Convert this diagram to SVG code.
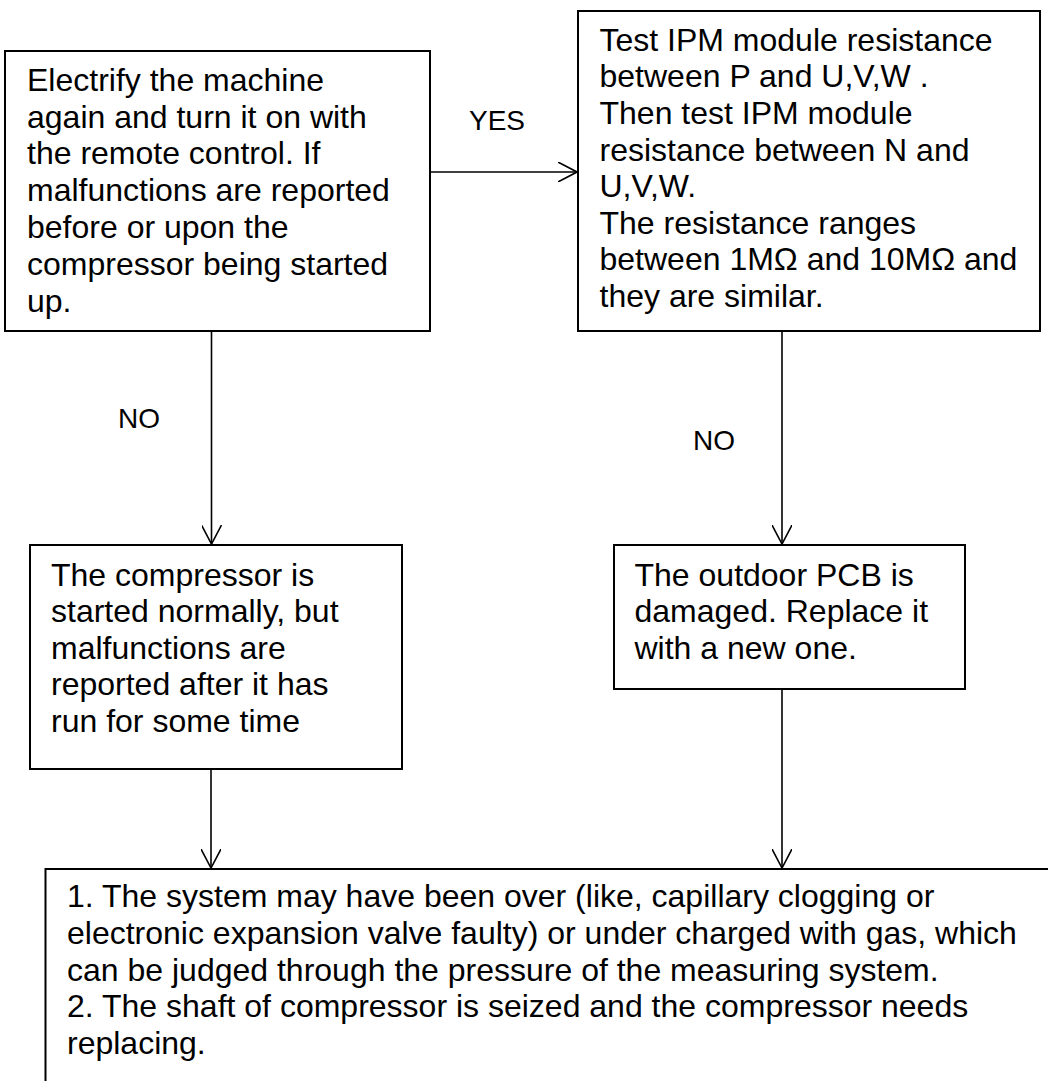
<svg xmlns="http://www.w3.org/2000/svg" width="1048" height="1081" viewBox="0 0 1048 1081">
<defs>
<style>
.box{fill:#fff;stroke:#000;stroke-width:2}
.t{font-family:"Liberation Sans",Arial,sans-serif;font-size:32px;fill:#000}
.lbl{font-family:"Liberation Sans",Arial,sans-serif;font-size:28px;fill:#000}
.c{stroke:#000;stroke-width:1.6;fill:none}
</style>
<marker id="arr" viewBox="0 0 20 20" refX="19" refY="10" markerWidth="20" markerHeight="20" markerUnits="userSpaceOnUse" orient="auto">
<path d="M0,0 L19,10 L0,20" fill="none" stroke="#000" stroke-width="1.6"/>
</marker>
</defs>
<rect width="1048" height="1081" fill="#fff"/>
<g id="connectors">
<line class="c" x1="430" y1="172" x2="577" y2="172" marker-end="url(#arr)"/>
<line class="c" x1="211.5" y1="331" x2="211.5" y2="544" marker-end="url(#arr)"/>
<line class="c" x1="782" y1="331" x2="782" y2="544" marker-end="url(#arr)"/>
<line class="c" x1="211" y1="769" x2="211" y2="868" marker-end="url(#arr)"/>
<line class="c" x1="782" y1="689" x2="782" y2="868" marker-end="url(#arr)"/>
<text class="lbl" x="469" y="130">YES</text>
<text class="lbl" x="118" y="428">NO</text>
<text class="lbl" x="693" y="450">NO</text>
</g>
<g id="n1">
<rect class="box" x="5" y="51" width="425" height="280"/>
<text class="t" x="27" y="90.7">Electrify the machine</text>
<text class="t" x="27" y="127.5">again and turn it on with</text>
<text class="t" x="27" y="164.3">the remote control. If</text>
<text class="t" x="27" y="201.1">malfunctions are reported</text>
<text class="t" x="27" y="237.9">before or upon the</text>
<text class="t" x="27" y="274.7">compressor being started</text>
<text class="t" x="27" y="311.5">up.</text>
</g>
<g id="n2">
<rect class="box" x="578" y="11" width="462" height="320"/>
<text class="t" x="599.5" y="50.7">Test IPM module resistance</text>
<text class="t" x="599.5" y="87.3">between P and U,V,W .</text>
<text class="t" x="599.5" y="123.9">Then test IPM module</text>
<text class="t" x="599.5" y="160.5">resistance between N and</text>
<text class="t" x="599.5" y="197.1">U,V,W.</text>
<text class="t" x="599.5" y="233.7">The resistance ranges</text>
<text class="t" x="599.5" y="270.3">between 1MΩ and 10MΩ and</text>
<text class="t" x="599.5" y="306.9">they are similar.</text>
</g>
<g id="n3">
<rect class="box" x="30" y="545" width="372" height="224"/>
<text class="t" x="51" y="585.7">The compressor is</text>
<text class="t" x="51" y="622.2">started normally, but</text>
<text class="t" x="51" y="658.7">malfunctions are</text>
<text class="t" x="51" y="695.2">reported after it has</text>
<text class="t" x="51" y="731.7">run for some time</text>
</g>
<g id="n4">
<rect class="box" x="614" y="545" width="351" height="144"/>
<text class="t" x="634.5" y="585.7">The outdoor PCB is</text>
<text class="t" x="634.5" y="622.2">damaged. Replace it</text>
<text class="t" x="634.5" y="658.7">with a new one.</text>
</g>
<g id="n5">
<rect class="box" x="45.5" y="869" width="1010" height="260"/>
<text class="t" x="67" y="906.7">1. The system may have been over (like, capillary clogging or</text>
<text class="t" x="67" y="943.6">electronic expansion valve faulty) or under charged with gas, which</text>
<text class="t" x="67" y="980.5">can be judged through the pressure of the measuring system.</text>
<text class="t" x="67" y="1017.4">2. The shaft of compressor is seized and the compressor needs</text>
<text class="t" x="67" y="1054.3">replacing.</text>
</g>
</svg>
